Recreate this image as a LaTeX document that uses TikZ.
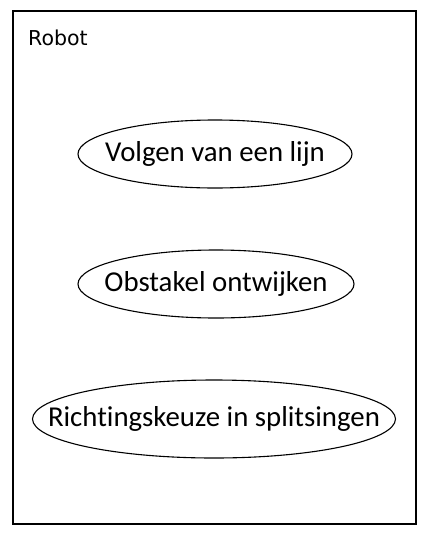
\documentclass[tikz,border=0pt]{standalone}
\usepackage{fontspec}
\setmainfont{Carlito}[Ligatures=NoCommon]
\newfontfamily\robotfont{DejaVu Sans}
\usetikzlibrary{shapes.geometric}
\begin{document}
\begin{tikzpicture}[x=1pt,y=-1pt,
  usecase/.style={draw,line width=1.1pt,ellipse,inner sep=0pt},
  uctext/.style={font=\fontsize{28.8}{34}\selectfont,inner sep=0pt}]
\useasboundingbox (0,0) rectangle (431,539);
\draw[line width=2pt] (13,11) rectangle (416,524);
\node[anchor=west,inner sep=0pt,font=\robotfont\fontsize{20.5}{24}\selectfont] (robot) at (28,38) {Robot};
\node[usecase,minimum width=274pt,minimum height=68pt] (lijn) at (215,154) {};
\node[uctext] (lijnT) at (lijn.center) {Volgen van een lijn};
\node[usecase,minimum width=276pt,minimum height=68pt] (obst) at (216,284) {};
\node[uctext] (obstT) at (obst.center) {Obstakel ontwijken};
\node[usecase,minimum width=363pt,minimum height=78pt] (richt) at (214,419) {};
\node[uctext] (richtT) at (richt.center) {Richtingskeuze in splitsingen};
\end{tikzpicture}
\end{document}
